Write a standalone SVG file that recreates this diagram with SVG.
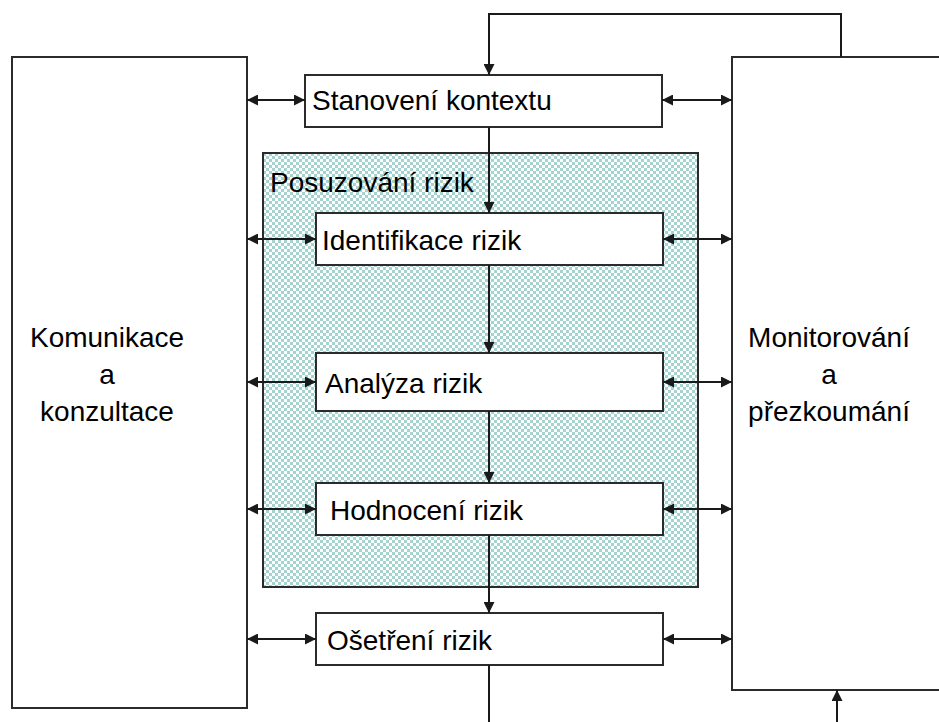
<svg xmlns="http://www.w3.org/2000/svg" width="939" height="722" viewBox="0 0 939 722">
  <defs>
    <!-- small teal/white checkerboard fill for the assessment area -->
    <pattern id="checker" x="263" y="153" width="6" height="6" patternUnits="userSpaceOnUse">
      <rect width="6" height="6" fill="#ffffff"/>
      <rect width="3" height="3" fill="#a6d3cf"/>
      <rect x="3" y="3" width="3" height="3" fill="#a6d3cf"/>
    </pattern>
    <marker id="arrow" viewBox="0 0 10 10" refX="10" refY="5" markerWidth="11" markerHeight="11" markerUnits="userSpaceOnUse" orient="auto-start-reverse">
      <path d="M0,0 L10,5 L0,10 z" fill="#1a1a1a"/>
    </marker>
    <style>
      .box { fill: #ffffff; stroke: #2b2b2b; stroke-width: 2; }
      .area { fill: url(#checker); stroke: #2b2b2b; stroke-width: 2; }
      .link { fill: none; stroke: #1a1a1a; stroke-width: 2; }
      .label { font-family: "Liberation Sans", Arial, sans-serif; font-size: 28px; fill: #000000; }
    </style>
  </defs>

  <!-- assessment area background -->
  <g id="posuzovani">
    <rect class="area" x="263" y="153" width="435" height="434"/>
    <text class="label" x="270" y="192">Posuzování rizik</text>
  </g>

  <g id="komunikace">
    <rect class="box" x="12" y="57" width="235" height="651"/>
    <text class="label" x="107" y="347" text-anchor="middle">Komunikace</text>
    <text class="label" x="107" y="384" text-anchor="middle">a</text>
    <text class="label" x="107" y="421" text-anchor="middle">konzultace</text>
  </g>

  <g id="monitorovani">
    <rect class="box" x="732" y="57" width="220" height="633"/>
    <text class="label" x="829" y="347" text-anchor="middle">Monitorování</text>
    <text class="label" x="829" y="384" text-anchor="middle">a</text>
    <text class="label" x="829" y="421" text-anchor="middle">přezkoumání</text>
  </g>

  <g id="stanoveni">
    <rect class="box" x="305" y="75" width="357" height="52"/>
    <text class="label" x="312" y="110">Stanovení kontextu</text>
  </g>

  <g id="identifikace">
    <rect class="box" x="316" y="213" width="347" height="52"/>
    <text class="label" x="322" y="250">Identifikace rizik</text>
  </g>

  <g id="analyza">
    <rect class="box" x="316" y="353" width="347" height="58"/>
    <text class="label" x="325" y="393">Analýza rizik</text>
  </g>

  <g id="hodnoceni">
    <rect class="box" x="316" y="483" width="347" height="52"/>
    <text class="label" x="330" y="520">Hodnocení rizik</text>
  </g>

  <g id="osetreni">
    <rect class="box" x="316" y="613" width="347" height="52"/>
    <text class="label" x="327" y="650">Ošetření rizik</text>
  </g>

  <g id="connectors">
    <!-- feedback loop from monitoring back to context -->
    <path class="link" d="M841,57 V14 H489 V75" marker-end="url(#arrow)"/>
    <!-- main process flow -->
    <path class="link" d="M489,127 V213" marker-end="url(#arrow)"/>
    <path class="link" d="M489,265 V353" marker-end="url(#arrow)"/>
    <path class="link" d="M489,411 V483" marker-end="url(#arrow)"/>
    <path class="link" d="M489,535 V613" marker-end="url(#arrow)"/>
    <path class="link" d="M489,665 V722"/>
    <path class="link" d="M837,722 V690" marker-end="url(#arrow)"/>
    <!-- communication links on the left -->
    <path class="link" d="M247,100 H305" marker-start="url(#arrow)" marker-end="url(#arrow)"/>
    <path class="link" d="M247,239 H316" marker-start="url(#arrow)" marker-end="url(#arrow)"/>
    <path class="link" d="M247,382 H316" marker-start="url(#arrow)" marker-end="url(#arrow)"/>
    <path class="link" d="M247,509 H316" marker-start="url(#arrow)" marker-end="url(#arrow)"/>
    <path class="link" d="M247,639 H316" marker-start="url(#arrow)" marker-end="url(#arrow)"/>
    <!-- monitoring links on the right -->
    <path class="link" d="M662,100 H732" marker-start="url(#arrow)" marker-end="url(#arrow)"/>
    <path class="link" d="M663,239 H732" marker-start="url(#arrow)" marker-end="url(#arrow)"/>
    <path class="link" d="M663,382 H732" marker-start="url(#arrow)" marker-end="url(#arrow)"/>
    <path class="link" d="M663,509 H732" marker-start="url(#arrow)" marker-end="url(#arrow)"/>
    <path class="link" d="M663,639 H732" marker-start="url(#arrow)" marker-end="url(#arrow)"/>
  </g>
</svg>
